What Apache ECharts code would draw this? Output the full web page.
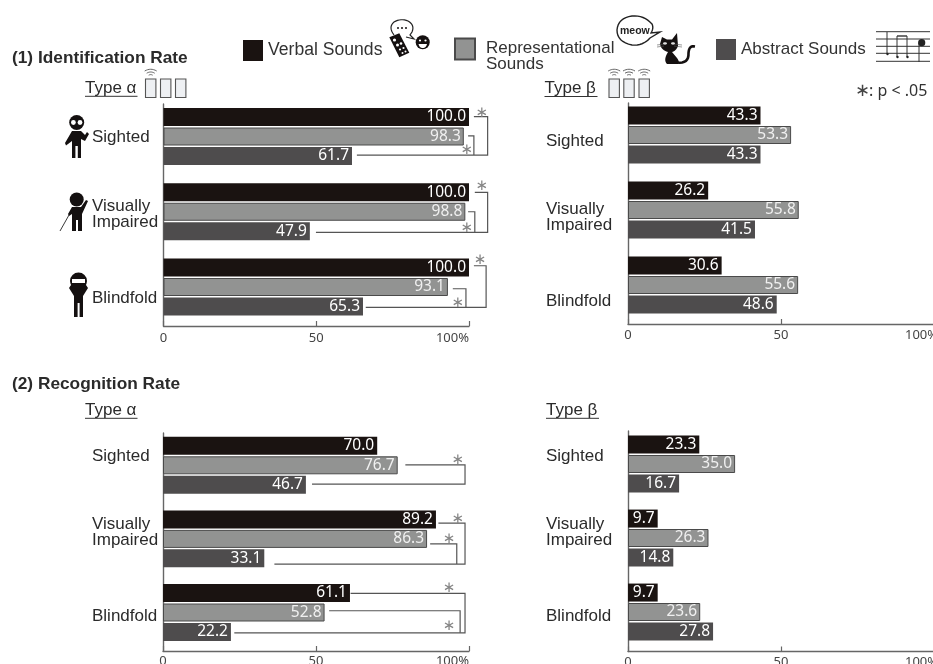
<!DOCTYPE html>
<html><head><meta charset="utf-8">
<style>html,body{margin:0;padding:0;background:#fff;overflow:hidden}#c{width:933px;height:664px}</style>
<script src="https://cdn.jsdelivr.net/npm/echarts@6/dist/echarts.min.js"></script>
</head><body><div id="c"></div>
<script>
const categories = ['Sighted', 'Visually\nImpaired', 'Blindfold'];
const seriesNames = ['Verbal Sounds', 'Representational Sounds', 'Abstract Sounds'];
const tickValues = [0, 50, 100];

const idAlphaVerbal = [100.0, 100.0, 100.0];
const idAlphaRepresentational = [98.3, 98.8, 93.1];
const idAlphaAbstract = [61.7, 47.9, 65.3];
const idBetaVerbal = [43.3, 26.2, 30.6];
const idBetaRepresentational = [53.3, 55.8, 55.6];
const idBetaAbstract = [43.3, 41.5, 48.6];
const recAlphaVerbal = [70.0, 89.2, 61.1];
const recAlphaRepresentational = [76.7, 86.3, 52.8];
const recAlphaAbstract = [46.7, 33.1, 22.2];
const recBetaVerbal = [23.3, 9.7, 9.7];
const recBetaRepresentational = [35.0, 26.3, 23.6];
const recBetaAbstract = [16.7, 14.8, 27.8];

// significance brackets: [category, rowA, valueA, rowB, valueB, valueOuter]
const idAlphaBrackets = [
  [0, -1.02, 101.6, 0.95, 63.3, 106.1], [0, -0.03, 99.7, 0.95, 101.6, 101.6],
  [1, -0.99, 101.9, 1.06, 49.9, 106.1], [1, 0, 99.7, 1.06, 101.9, 101.9],
  [2, -1.09, 101.6, 1.04, 66.2, 105.6], [2, 0.09, 94.7, 1.04, 99, 99]
];
const idAlphaStars = [[0, -1.22, 104.2], [0, 0.69, 99.3], [1, -1.3, 104.2], [1, 0.84, 99.3], [2, -1.4, 103.6], [2, 0.84, 96.3]];
const recAlphaBrackets = [
  [0, -0.02, 79.2, 0.97, 48.7, 98.7],
  [1, -0.81, 90, 1.29, 36.4, 98.7], [1, 0.25, 87.3, 1.29, 96, 96],
  [2, -0.98, 61.3, 1.04, 23.3, 98.7], [2, -0.09, 54.3, 1.04, 97.1, 97.1]
];
const recAlphaStars = [[0, -0.27, 96.3], [1, -1.04, 96.3], [1, -0.01, 93.5], [2, -1.24, 93.5], [2, 0.69, 93.5]];

const colors = ['#1a1311', '#929392', '#4e4c4d'];
const axisColor = '#666';
const step = 19.5;

const panels = [
  {vals: [idAlphaVerbal, idAlphaRepresentational, idAlphaAbstract], left: 163.5, width: 305.5, top: 104, bottom: 326, c0: 136.5, c2: 287, labelX: 92, shift: [0.5, 3, 11], tickMargin: 6, br: idAlphaBrackets, st: idAlphaStars},
  {vals: [idBetaVerbal, idBetaRepresentational, idBetaAbstract], left: 628, width: 306, top: 103, bottom: 324, c0: 135, c2: 285, labelX: 546, shift: [6, 7.5, 16], tickMargin: 5, edge: true},
  {vals: [recAlphaVerbal, recAlphaRepresentational, recAlphaAbstract], left: 163, width: 306, top: 433, bottom: 651, c0: 465.3, c2: 612.5, labelX: 92, shift: [-9.3, -6.5, 3.5], tickMargin: 4, br: recAlphaBrackets, st: recAlphaStars},
  {vals: [recBetaVerbal, recBetaRepresentational, recBetaAbstract], left: 628, width: 306, top: 431, bottom: 651.5, c0: 464, c2: 612, labelX: 546, shift: [-8, -6, 4], tickMargin: 4, edge: true}
];

const grid = [], xAxis = [], yAxis = [], series = [];
const sans = '"Liberation Sans", Arial, sans-serif';
const numFont = '"Noto Sans", sans-serif';

panels.forEach(function (p) {
  // axes-only grid: draws the axis lines, ticks and tick labels
  const a = grid.length;
  grid.push({left: p.left, width: p.width, top: p.top, height: p.bottom - p.top, outerBoundsMode: 'none'});
  const tickStyle = {color: '#444', fontFamily: numFont, fontSize: 13};
  xAxis.push({gridIndex: a, type: 'value', min: 0, max: 100, interval: 50,
    axisLine: {show: true, onZero: false, lineStyle: {color: axisColor, width: 1.4}},
    axisTick: {show: true, inside: true, length: 5, lineStyle: {color: axisColor, width: 1.2}},
    splitLine: {show: false},
    axisLabel: Object.assign({show: true, margin: p.tickMargin, showMaxLabel: true, alignMaxLabel: p.edge ? 'center' : 'right',
      rich: {m: Object.assign({padding: [0, 25, 0, 0]}, tickStyle)},
      formatter: function (v) { return v === 100 ? (p.edge ? '{m|100%}' : '100%') : String(v); }}, tickStyle)});
  yAxis.push({gridIndex: a, type: 'value', min: 0, max: 1, axisLine: {show: true, onZero: false, lineStyle: {color: axisColor, width: 1.4}},
    axisTick: {show: false}, axisLabel: {show: false}, splitLine: {show: false}});

  // bar grid
  const b = grid.length;
  const band = (p.c2 - p.c0) / 2;
  grid.push({left: p.left, width: p.width, top: p.c0 - band / 2, height: band * 3, outerBoundsMode: 'none'});
  xAxis.push({gridIndex: b, type: 'value', min: 0, max: 100, show: false});
  const labelStyle = {color: '#2b2b2b', fontFamily: sans, fontSize: 17, lineHeight: 16, align: 'left'};
  const rich = {p: Object.assign({}, labelStyle)};
  p.shift.forEach(function (d, i) {
    rich['s' + i] = {fontSize: 1, lineHeight: Math.abs(2 * d)};
  });
  yAxis.push({gridIndex: b, type: 'category', inverse: true, data: categories,
    axisLine: {show: false}, axisTick: {show: false},
    axisLabel: Object.assign({show: true, interval: 0, margin: p.left - p.labelX, rich: rich,
      formatter: function (v, i) {
        const d = p.shift[i];
        const body = v.split('\n').map(function (l) { return '{p|' + l + '}'; });
        if (d > 0) { body.unshift('{s' + i + '| }'); }
        if (d < 0) { body.push('{s' + i + '| }'); }
        return body.join('\n');
      }}, labelStyle)});

  seriesNames.forEach(function (name, i) {
    series.push({type: 'bar', name: name, xAxisIndex: b, yAxisIndex: b, data: p.vals[i], barWidth: 18, barGap: '8%',
      animation: false,
      itemStyle: {color: colors[i], borderColor: i === 1 ? '#4a4a4a' : colors[i], borderWidth: i === 1 ? 1 : 0},
      label: {show: true, position: 'insideRight', distance: 3, color: i === 1 ? '#f0f0f0' : '#fff', fontFamily: numFont, fontSize: 15.5,
        formatter: function (o) { return o.value.toFixed(1); }}});
  });

  if (p.br) {
    series.push({type: 'custom', xAxisIndex: b, yAxisIndex: b, data: p.br, encode: {x: 2, y: 0}, silent: true, animation: false, clip: false,
      renderItem: function (params, api) {
        const cat = api.value(0);
        const yc = api.coord([0, cat])[1];
        const ya = yc + api.value(1) * step, yb = yc + api.value(3) * step;
        const xa = api.coord([api.value(2), cat])[0], xb = api.coord([api.value(4), cat])[0], xo = api.coord([api.value(5), cat])[0];
        return {type: 'polyline', shape: {points: [[xa, ya], [xo, ya], [xo, yb], [xb, yb]]},
          style: {stroke: '#555', lineWidth: 1.2, fill: null}};
      }});
    series.push({type: 'custom', xAxisIndex: b, yAxisIndex: b, data: p.st, encode: {x: 2, y: 0}, silent: true, animation: false, clip: false,
      renderItem: function (params, api) {
        const cat = api.value(0);
        const yc = api.coord([0, cat])[1];
        return {type: 'text', style: {text: '\u2217', x: api.coord([api.value(2), cat])[0], y: yc + api.value(1) * step,
          fill: '#858585', font: '15px "DejaVu Sans"', align: 'center', verticalAlign: 'middle'}};
      }});
  }
});

// decoration helpers
function txt(t, x, y, size, extra) {
  return {type: 'text', x: x, y: y, style: Object.assign({text: t, fill: '#2b2b2b', font: size + 'px ' + sans, verticalAlign: 'middle', align: 'left'}, extra || {})};
}
function ln(x1, y1, x2, y2, w, c) {
  return {type: 'line', shape: {x1: x1, y1: y1, x2: x2, y2: y2}, style: {stroke: c || '#333', lineWidth: w || 1}};
}
// flatten a small M/L/Q/Z outline into polygon or polyline elements
function path(d, fill, stroke, w) {
  const tokens = d.match(/[MLQZ]|-?[\d.]+/g);
  const subs = [];
  let cur = null, i = 0, cmd = null;
  while (i < tokens.length) {
    if (/[MLQZ]/.test(tokens[i])) { cmd = tokens[i++]; if (cmd === 'Z') { continue; } }
    if (cmd === 'M') { cur = [[+tokens[i], +tokens[i + 1]]]; subs.push(cur); i += 2; }
    else if (cmd === 'L') { cur.push([+tokens[i], +tokens[i + 1]]); i += 2; }
    else if (cmd === 'Q') {
      const p0 = cur[cur.length - 1], cx = +tokens[i], cy = +tokens[i + 1], ex = +tokens[i + 2], ey = +tokens[i + 3];
      for (let k = 1; k <= 8; k++) {
        const t = k / 8, u = 1 - t;
        cur.push([u * u * p0[0] + 2 * u * t * cx + t * t * ex, u * u * p0[1] + 2 * u * t * cy + t * t * ey]);
      }
      i += 4;
    }
  }
  return {type: 'group', children: subs.map(function (pts) {
    return fill
      ? {type: 'polygon', shape: {points: pts}, style: {fill: fill, stroke: stroke || null, lineWidth: w || 0}}
      : {type: 'polyline', shape: {points: pts}, style: {fill: null, stroke: stroke, lineWidth: w || 1}};
  })};
}
function circ(x, y, r, fill) { return {type: 'circle', shape: {cx: x, cy: y, r: r}, style: {fill: fill}}; }
function wifi(cx) {
  return path('M' + (cx - 6) + ' 71Q' + cx + ' 67.5 ' + (cx + 6) + ' 71M' + (cx - 4) + ' 73.2Q' + cx + ' 70.8 ' + (cx + 4) + ' 73.2M' + (cx - 2) + ' 75.2Q' + cx + ' 74 ' + (cx + 2) + ' 75.2', null, '#555', 0.9);
}
function box(x) {
  return {type: 'rect', shape: {x: x, y: 79, width: 10.4, height: 18.5}, style: {fill: '#eef0f3', stroke: '#555', lineWidth: 1.1}};
}

const K = '#141010', W = '#fff';
const graphic = [
  txt('Type \u03b1', 85, 88, 17), ln(85, 96.3, 137.5, 96.3, 1),
  txt('Type \u03b2', 544.5, 88, 17), ln(544.5, 96.5, 597.5, 96.5, 1),
  txt('Type \u03b1', 85, 410, 17), ln(85, 418.3, 137.5, 418.3, 1),
  txt('Type \u03b2', 546, 410, 17), ln(546, 418.3, 599, 418.3, 1),
  txt('\u2217', 855, 91, 18, {font: '18px "DejaVu Sans"', fill: '#444'}),
  txt(': p < .05', 869, 91, 16, {font: '16px ' + numFont, fill: '#333'}),
  box(145.5), box(160.5), box(175.5), wifi(150.7),
  box(609), box(623.8), box(639), wifi(614.2), wifi(629), wifi(644.2),
  // person: sighted
  circ(76.7, 122.5, 7.5, K), circ(73.4, 122.5, 2.4, W), circ(80, 122.5, 2.4, W),
  path('M72 131L81 131L85 135L87 132L89 134L85 141L81 139L81 158L77.8 158L77.8 146L75.4 146L75.4 158L72 158L72 141L66 145.5L65 143Z', K),
  // person: visually impaired
  circ(76.7, 199.5, 7, K),
  path('M72 207L81 207L86 200L88 201L82 214L82 231L78 231L78 220L76 220L76 231L72 231L72 214L69 216L68 214Z', K),
  ln(60, 231, 69, 215, 0.9, '#222'),
  // person: blindfold
  path('M69 288L73 282L84 282L88 288L83 296L83 317L79.6 317L79.6 303L77.6 303L77.6 317L74 317L74 296Z', K),
  circ(78.5, 281, 8.5, K), {type: 'rect', shape: {x: 72, y: 279, width: 13, height: 4}, style: {fill: W}},
  // recorder and speech bubble
  path('M389.3 37.3L399.3 33.3L409.3 52.7L399.3 57.3Z', K),
  circ(394.5, 40, 1.6, W), circ(397.5, 45, 1.5, W), circ(401, 43.5, 1.3, W), circ(400, 49.5, 1.1, W), circ(403.5, 48, 1.1, W), circ(402.5, 53, 1, W), circ(405.5, 51.5, 1, W),
  path('M394 35Q388 27 394 22Q401 18 408 21Q415 25 412 32L410 35L414 39L406 37', null, '#222', 1.2),
  circ(398, 28, 1, K), circ(402, 28, 1, K), circ(406, 28, 1, K),
  circ(422.7, 42.3, 7, K), circ(420, 40.5, 1.1, W), circ(425.5, 40.5, 1.1, W),
  path('M418.5 44L427 44Q426 48 422.7 48Q419.5 48 418.5 44Z', W),
  // cat and meow bubble
  path('M652 24Q644 15 632 16Q618 18 617 30Q617 42 632 45Q643 46 650 38L660 32L651 33Q654 28 652 24Z', W, '#222', 1.4),
  txt('meow', 620, 31, 10, {font: 'bold 10.5px ' + sans, fill: '#222'}),
  path('M662 37L667 39.5L672 39.5L677 33L678 46Q676 51 672 52L677 58Q680 62 678 64L667 64Q663 60 668 52Q661 50 660 44Z', K),
  path('M677 62.5Q689 64 688.5 53Q689 45 695 46.5', null, K, 2.6),
  ln(657, 45, 664, 44, 0.6, '#555'), ln(657, 47, 664, 46, 0.6, '#555'), ln(674, 44, 682, 45, 0.6, '#555'), ln(674, 46, 682, 47, 0.6, '#555'),
  {type: 'ellipse', shape: {cx: 665, cy: 43.5, rx: 2, ry: 1.2}, style: {fill: '#ddd'}},
  {type: 'ellipse', shape: {cx: 673, cy: 43.5, rx: 2, ry: 1.2}, style: {fill: '#ddd'}},
  // musical staff
  ln(876, 31.7, 930, 31.7, 1), ln(876, 39, 930, 39, 1), ln(876, 46.3, 930, 46.3, 1), ln(876, 53.3, 930, 53.3, 1), ln(876, 61.3, 930, 61.3, 1),
  ln(887, 32, 887, 54, 1), circ(887.5, 54, 1.2, '#222'),
  ln(897, 36, 897, 57, 1), ln(907, 36, 907, 57, 1), ln(897, 36, 907, 36, 1.4), circ(897.5, 57, 1.2, '#222'), circ(907.5, 57, 1.2, '#222'),
  ln(919, 43, 919, 62, 1), circ(921.7, 42.7, 3.6, '#222')
];

const legendBase = {orient: 'horizontal', itemWidth: 20, itemHeight: 21, padding: 0, selectedMode: false, icon: 'rect'};
const repStyle = {fontFamily: sans, fontSize: 17, lineHeight: 16, color: '#333', padding: [0, 0, 0, 6]};
const option = {
  backgroundColor: '#fff',
  animation: false,
  title: [
    {text: '(1) Identification Rate', left: 12, top: 49.5, padding: 0, textStyle: {fontFamily: sans, fontWeight: 'bold', fontSize: 17.3, color: '#2b2b2b'}},
    {text: '(2) Recognition Rate', left: 12, top: 375.5, padding: 0, textStyle: {fontFamily: sans, fontWeight: 'bold', fontSize: 17.3, color: '#2b2b2b'}}
  ],
  legend: [
    Object.assign({}, legendBase, {data: [seriesNames[0]], left: 243, top: 40, textStyle: {fontFamily: sans, fontSize: 17.6, color: '#333'}}),
    Object.assign({}, legendBase, {data: [seriesNames[1]], left: 454, top: 32.5,
      formatter: function () { return '{s| }\n{a|Representational}\n{a|Sounds}'; },
      textStyle: {fontFamily: sans, fontSize: 17, color: '#333', rich: {a: repStyle, s: {fontSize: 1, lineHeight: 14}}}}),
    Object.assign({}, legendBase, {data: [seriesNames[2]], left: 716, top: 39, textStyle: {fontFamily: sans, fontSize: 17, color: '#333'}})
  ],
  grid: grid, xAxis: xAxis, yAxis: yAxis, series: series, graphic: graphic
};
echarts.init(document.getElementById('c'), null, {renderer: 'canvas'}).setOption(option);
</script></body></html>
